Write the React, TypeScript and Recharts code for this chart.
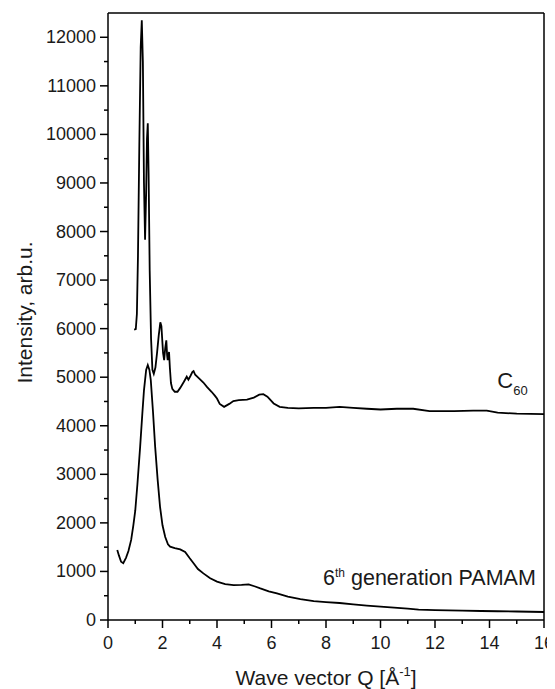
import { LineChart, Line, XAxis, YAxis, ReferenceLine, ReferenceDot } from "recharts";

// C60 scattering curve (Q in 1/Å, intensity in arb. units)
const c60Q = [
  0.96, 1.02, 1.06, 1.1, 1.15, 1.2, 1.24, 1.28, 1.32, 1.36, 1.4, 1.43, 1.46, 1.49, 1.53, 1.58, 1.63, 1.68,
  1.74, 1.8, 1.86, 1.92, 1.96, 2.02, 2.06, 2.1, 2.14, 2.17, 2.19, 2.21, 2.24, 2.27, 2.31, 2.36, 2.45, 2.55,
  2.65, 2.78, 2.89, 2.95, 3.02, 3.1, 3.14, 3.2, 3.35, 3.5, 3.63, 3.8, 3.92, 4.0, 4.1, 4.26, 4.45, 4.6, 4.8,
  5.1, 5.35, 5.55, 5.7, 5.85, 6.08, 6.3, 6.6, 7.0, 7.55, 8.0, 8.5, 9.0, 9.5, 10.0, 10.6, 11.2, 11.8, 12.7,
  13.4, 13.9, 14.3, 15.0, 16.0,
];
const c60I = [
  5980, 5990, 6300, 7500, 9800, 11800, 12350, 11500, 9000, 7830, 8800, 9900, 10230, 9200, 7200, 5800, 5150, 5070,
  5200, 5500, 5850, 6130, 6050, 5500, 5350, 5600, 5760, 5450, 5350, 5420, 5520, 5200, 4880, 4760, 4700, 4700,
  4780, 4900, 5010, 4950, 5020, 5110, 5125, 5050, 4970, 4890, 4800, 4700, 4620, 4560, 4450, 4390, 4450, 4510, 4530,
  4540, 4580, 4640, 4650, 4600, 4460, 4390, 4370, 4360, 4370, 4370, 4390, 4370, 4350, 4335, 4350, 4350, 4300, 4300,
  4310, 4310, 4270, 4250, 4240,
];

// 6th generation PAMAM dendrimer curve
const pamamQ = [
  0.34, 0.4, 0.48, 0.56, 0.66, 0.75, 0.85, 0.93, 1.0, 1.08, 1.18, 1.26, 1.32, 1.4, 1.46, 1.52, 1.57, 1.65, 1.73,
  1.82, 1.91, 2.0, 2.1, 2.2, 2.28, 2.45, 2.65, 2.83, 3.0, 3.14, 3.3, 3.5, 3.75, 4.0, 4.3, 4.61, 4.9, 5.16, 5.4,
  5.59, 5.9, 6.2, 6.6, 7.06, 7.55, 8.0, 8.5, 9.0, 9.5, 10.0, 10.5, 11.0, 11.4, 12.0, 12.5, 13.0, 13.7, 14.3,
  15.0, 16.0,
];
const pamamI = [
  1440, 1330, 1200, 1170, 1280, 1420, 1650, 1950, 2250, 2800, 3570, 4250, 4730, 5150, 5250, 5150, 4940, 4300, 3570,
  2900, 2330, 1950, 1710, 1560, 1510, 1480, 1455, 1400, 1270, 1170, 1050, 960, 860, 790, 740, 720, 725, 735, 690,
  650, 590, 550, 480, 430, 390, 370, 350, 320, 295, 275, 255, 235, 215, 205, 200, 195, 185, 180,
  175, 165,
];

const xTicks = [0, 1, 2, 3, 4, 5, 6, 7, 8, 9, 10, 11, 12, 13, 14, 15, 16];
const yTicks = [
  0, 500, 1000, 1500, 2000, 2500, 3000, 3500, 4000, 4500, 5000, 5500, 6000, 6500, 7000, 7500, 8000, 8500, 9000,
  9500, 10000, 10500, 11000, 11500, 12000,
];

const c60Data = c60Q.map((q, i) => ({ q, v: c60I[i] }));
const pamamData = pamamQ.map((q, i) => ({ q, v: pamamI[i] }));

const FONT = "'Liberation Sans', Arial, sans-serif";
const INK = "#1a1a1a";

function XTick(props: any) {
  const { x, y, payload } = props;
  const v = payload.value;
  const major = v % 2 === 0;
  return (
    <g>
      <line x1={x} x2={x} y1={y} y2={y + (major ? 8 : 4)} stroke="#000" strokeWidth={1.5} />
      {major && (
        <text x={x} y={y + 29} textAnchor="middle" fontSize={18} fontFamily={FONT} fill={INK}>
          {v}
        </text>
      )}
    </g>
  );
}

function YTick(props: any) {
  const { x, y, payload } = props;
  const v = payload.value;
  const major = v % 1000 === 0;
  return (
    <g>
      <line x1={x} x2={x - (major ? 8 : 4)} y1={y} y2={y} stroke="#000" strokeWidth={1.5} />
      {major && (
        <text x={x - 12} y={y + 6} textAnchor="end" fontSize={18} fontFamily={FONT} fill={INK}>
          {v}
        </text>
      )}
    </g>
  );
}

function XTitle(props: any) {
  const { viewBox } = props;
  const cx = viewBox.x + viewBox.width / 2;
  return (
    <text x={cx} y={viewBox.y + 65} textAnchor="middle" fontSize={21} fontFamily={FONT} fill={INK}>
      Wave vector Q [Å
      <tspan dy={-9} fontSize={13}>-1</tspan>
      <tspan dy={9}>]</tspan>
    </text>
  );
}

function YTitle(props: any) {
  const { viewBox } = props;
  const cy = viewBox.y + viewBox.height / 2 - 4;
  const cx = 24;
  return (
    <text
      x={cx}
      y={cy}
      transform={`rotate(-90 ${cx} ${cy})`}
      textAnchor="middle"
      fontSize={21}
      fontFamily={FONT}
      fill={INK}
    >
      Intensity, arb.u.
    </text>
  );
}

function C60Label(props: any) {
  const { cx, cy } = props;
  return (
    <text x={cx} y={cy} textAnchor="end" fontSize={22} fontFamily={FONT} fill={INK}>
      C<tspan dy={7} fontSize={13}>60</tspan>
    </text>
  );
}

function PamamLabel(props: any) {
  const { cx, cy } = props;
  return (
    <text x={cx} y={cy} textAnchor="end" fontSize={21.5} fontFamily={FONT} fill={INK}>
      6<tspan dy={-8} fontSize={12}>th</tspan>
      <tspan dy={8}> generation PAMAM</tspan>
    </text>
  );
}

export default function App() {
  return (
    <LineChart width={547} height={681} margin={{ top: 5, right: 11, left: 0, bottom: 0 }}>
      <XAxis
        dataKey="q"
        type="number"
        domain={[0, 16]}
        ticks={xTicks}
        interval={0}
        height={69}
        tickSize={0}
        tickMargin={0}
        tickLine={false}
        tick={<XTick />}
        axisLine={{ stroke: "#000", strokeWidth: 1.5 }}
        label={<XTitle />}
        allowDuplicatedCategory={false}
      />
      <YAxis
        type="number"
        domain={[0, 12500]}
        ticks={yTicks}
        interval={0}
        width={100}
        tickSize={0}
        tickMargin={0}
        tickLine={false}
        tick={<YTick />}
        axisLine={{ stroke: "#000", strokeWidth: 1.5 }}
        label={<YTitle />}
      />
      <ReferenceLine x={16} stroke="#000" strokeWidth={1.5} />
      <ReferenceLine y={12500} stroke="#000" strokeWidth={1.5} />
      <Line
        data={c60Data}
        dataKey="v"
        type="linear"
        stroke="#000"
        strokeWidth={1.8}
        dot={false}
        isAnimationActive={false}
      />
      <Line
        data={pamamData}
        dataKey="v"
        type="linear"
        stroke="#000"
        strokeWidth={1.8}
        dot={false}
        isAnimationActive={false}
      />
      <ReferenceDot x={15.4} y={4770} r={0} shape={<C60Label />} />
      <ReferenceDot x={15.7} y={720} r={0} shape={<PamamLabel />} />
    </LineChart>
  );
}
